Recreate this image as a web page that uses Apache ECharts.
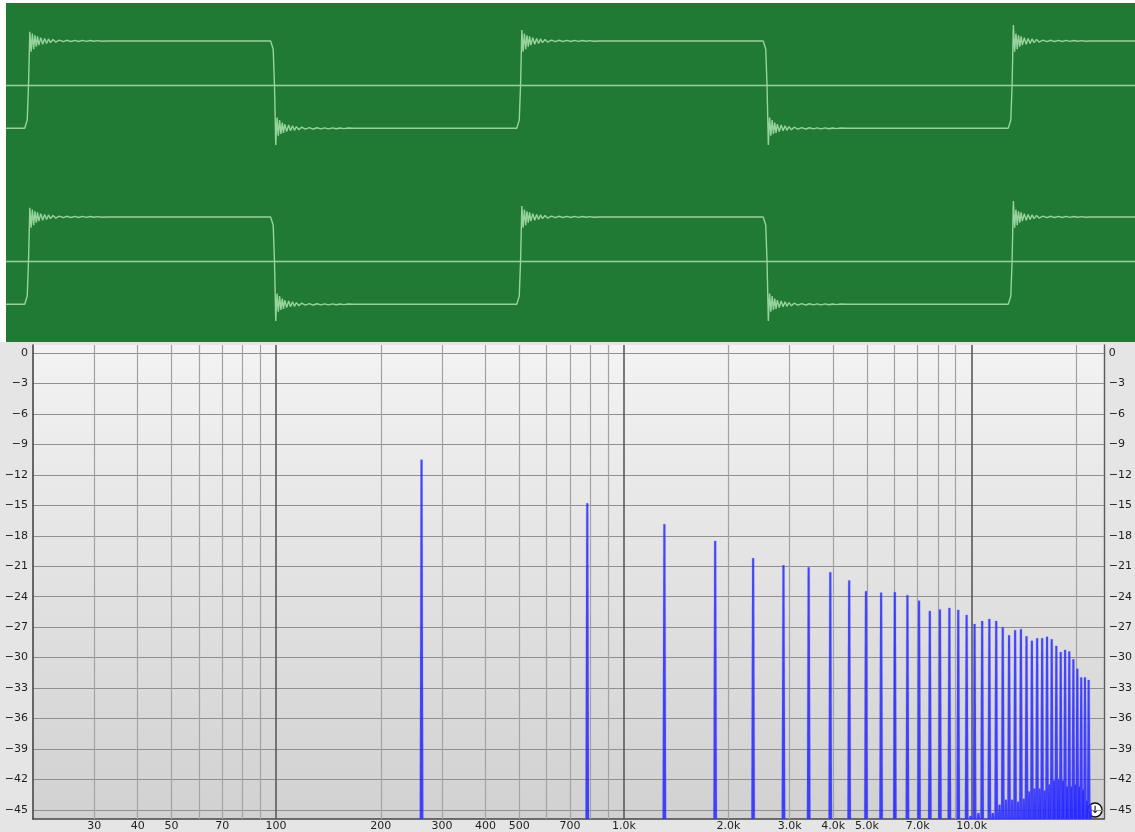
<!DOCTYPE html>
<html><head><meta charset="utf-8">
<script src="https://cdn.jsdelivr.net/npm/echarts@6/dist/echarts.min.js"></script>
<style>html,body{margin:0;padding:0;background:#fff;}#c{width:1135px;height:832px;}</style>
</head><body><div id="c"></div>
<script>
// ---------- Oscilloscope (two identical channels) ----------
const totalMs = 8.772;
const edgeTimesMs = [0.175, 2.086, 3.998, 5.913, 7.817];
const edgePeaks = [0.65, -0.73, 0.67, -0.73, 0.73];
const startLevel = -0.528;
const highLevel = 0.537;
const lowLevel = -0.528;
const preOffsetsMs = [-0.03, -0.02, -0.01];
const preDev = [0, 0.05, 0.1];
const peakOffsetMs = 0.01;
const ringOffsetsMs = [0.02, 0.03, 0.04, 0.05, 0.06, 0.07, 0.08, 0.095, 0.11, 0.125, 0.14, 0.155, 0.17, 0.19, 0.21, 0.24, 0.27, 0.30, 0.33, 0.36, 0.39, 0.42, 0.45, 0.48, 0.51, 0.54, 0.57, 0.61];
const ringDev = [-0.13, 0.09, -0.10, 0.07, -0.07, 0.055, -0.05, 0.04, -0.04, 0.03, -0.03, 0.025, -0.02, 0.018, -0.014, 0.011, -0.008, 0.009, -0.007, 0.008, -0.006, 0.007, -0.005, 0.006, -0.004, 0.004, -0.003, 0];

// ---------- Spectrum ----------
const harmonicFreqs = [262, 785, 1308, 1831, 2354, 2878, 3401, 3924, 4447, 4970, 5494, 6017, 6540, 7063, 7586, 8110, 8633, 9156, 9679, 10202, 10726, 11249, 11772, 12295, 12818, 13342, 13865, 14388, 14911, 15434, 15958, 16481, 17004, 17527, 18050, 18574, 19097, 19620, 20143, 20666, 21190, 21713];
const harmonicDb = [-10.5, -14.8, -16.85, -18.5, -20.2, -20.9, -21.1, -21.6, -22.4, -23.45, -23.6, -23.55, -23.85, -24.4, -25.4, -25.25, -25.1, -25.3, -25.8, -26.7, -26.4, -26.2, -26.4, -27.0, -27.8, -27.3, -27.2, -27.9, -28.35, -28.1, -28.1, -27.95, -28.2, -28.85, -29.45, -29.25, -29.4, -30.15, -31.1, -31.95, -31.95, -32.2];
const aliasFreqs = [9941, 10464, 11510, 12034, 12557, 13080, 13603, 14126, 14650, 15173, 15696, 16219, 16742, 17266, 17789, 18312, 18835, 19358, 19882, 20405, 20928, 21451, 21974];
const aliasDb = [-45.6, -45.3, -45.3, -44.5, -44.0, -44.0, -44.2, -43.9, -43.2, -42.9, -42.9, -43.1, -42.5, -42.1, -41.95, -42.1, -42.7, -42.7, -42.5, -42.7, -43.0, -44.1, -44.6];
const dbTicks = [0, -3, -6, -9, -12, -15, -18, -21, -24, -27, -30, -33, -36, -39, -42, -45];
const gridFreqs = [30, 40, 50, 60, 70, 80, 90, 100, 200, 300, 400, 500, 600, 700, 800, 900, 1000, 2000, 3000, 4000, 5000, 6000, 7000, 8000, 9000, 10000, 20000];
const majorFreqs = [100, 1000, 10000];
const labelFreqs = [30, 40, 50, 70, 100, 200, 300, 400, 500, 700, 1000, 2000, 3000, 4000, 5000, 7000, 10000];
const labelTexts = ['30', '40', '50', '70', '100', '200', '300', '400', '500', '700', '1.0k', '2.0k', '3.0k', '4.0k', '5.0k', '7.0k', '10.0k'];
const dbMin = -45.9, dbMax = 0.8;

function buildChannel() {
  const pts = [[0, startLevel]];
  let prev = startLevel;
  edgeTimesMs.forEach((t, i) => {
    const rising = edgePeaks[i] > 0;
    const target = rising ? highLevel : lowLevel;
    const s = rising ? 1 : -1;
    preOffsetsMs.forEach((o, k) => pts.push([t + o, prev + s * preDev[k]]));
    pts.push([t, 0]);
    pts.push([t + peakOffsetMs, edgePeaks[i]]);
    ringOffsetsMs.forEach((o, k) => pts.push([t + o, target + s * ringDev[k]]));
    prev = target;
  });
  pts.push([totalMs, prev]);
  return pts;
}
const leftChannel = buildChannel();
const rightChannel = buildChannel();

const waveColor = '#97d39c';
const font = 'DejaVu Sans';

function waveSeries(data, idx) {
  return {
    type: 'line', data: data, xAxisIndex: idx, yAxisIndex: idx,
    showSymbol: false, symbol: 'none', animation: false, z: 3,
    lineStyle: { color: waveColor, width: 1.4 },
    markLine: {
      silent: true, symbol: ['none', 'none'], animation: false,
      label: { show: false },
      lineStyle: { color: waveColor, width: 1.4, type: 'solid' },
      data: [{ yAxis: 0 }]
    }
  };
}

const chart = echarts.init(document.getElementById('c'), null, { renderer: 'canvas' });

const vLines = gridFreqs.map(f => {
  const li = labelFreqs.indexOf(f);
  const major = majorFreqs.indexOf(f) >= 0;
  return {
    xAxis: f,
    lineStyle: { color: major ? '#5a5a5a' : '#a2a2a2', width: major ? 1.6 : 1.2, type: 'solid' },
    label: li >= 0 ? { show: true, formatter: labelTexts[li] } : { show: false }
  };
});

const yLabel = {
  fontFamily: font, fontSize: 11, color: '#1e1e1e', margin: 5,
  customValues: dbTicks,
  formatter: v => v === 0 ? '0' : '\u2212' + Math.abs(v)
};

chart.setOption({
  animation: false,
  backgroundColor: '#ffffff',
  graphic: [
    { type: 'rect', z: -10, shape: { x: 0, y: 342, width: 1135, height: 490 }, style: { fill: '#e5e5e5' } },
    { type: 'rect', z: -10, shape: { x: 6, y: 3, width: 1129, height: 339 }, style: { fill: '#217a33' } },
    { type: 'group', x: 1095, y: 810, z: 50, children: [
      { type: 'circle', shape: { cx: 0, cy: 0, r: 7 }, style: { fill: '#ffffff', stroke: '#111', lineWidth: 1.5 } },
      { type: 'text', style: { text: '\u2193', x: 0, y: 0, align: 'center', verticalAlign: 'middle', fontSize: 10, fontWeight: 'bold', fill: '#111', fontFamily: font } }
    ] }
  ],
  grid: [
    { left: 6, right: 0, top: 3, height: 164 },
    { left: 6, right: 0, top: 179, height: 164 },
    { left: 33, right: 29, top: 345, bottom: 13, show: true, borderWidth: 0,
      backgroundColor: new echarts.graphic.LinearGradient(0, 0, 0, 1, [
        { offset: 0, color: '#f3f3f3' }, { offset: 0.5, color: '#e2e2e2' }, { offset: 1, color: '#d1d1d1' }
      ]) }
  ],
  xAxis: [
    { gridIndex: 0, type: 'value', min: 0, max: totalMs, show: false },
    { gridIndex: 1, type: 'value', min: 0, max: totalMs, show: false },
    { gridIndex: 2, type: 'log', logBase: 10, min: 20, max: 24000,
      axisLine: { show: true, onZero: false, lineStyle: { color: '#474747', width: 1.6 } },
      axisTick: { show: false }, axisLabel: { show: false }, splitLine: { show: false }, minorTick: { show: false } }
  ],
  yAxis: [
    { gridIndex: 0, type: 'value', min: -1, max: 1, show: false },
    { gridIndex: 1, type: 'value', min: -1, max: 1, show: false },
    { gridIndex: 2, type: 'value', min: dbMin, max: dbMax, position: 'left',
      axisLine: { show: true, lineStyle: { color: '#474747', width: 1.6 } },
      axisTick: { show: false, customValues: dbTicks },
      axisLabel: yLabel,
      splitLine: { show: true, lineStyle: { color: '#909090', width: 1.2 } } },
    { gridIndex: 2, type: 'value', min: dbMin, max: dbMax, position: 'right',
      axisLine: { show: true, lineStyle: { color: '#5a5a5a', width: 1.4 } },
      axisTick: { show: false, customValues: dbTicks },
      axisLabel: yLabel,
      splitLine: { show: false } }
  ],
  series: [
    waveSeries(leftChannel, 0),
    waveSeries(rightChannel, 1),
    {
      type: 'line', data: [], xAxisIndex: 2, yAxisIndex: 2, z: 1, silent: true,
      markLine: {
        z: 1, silent: true, symbol: ['none', 'none'], animation: false,
        label: { position: 'start', distance: 2, fontFamily: font, fontSize: 11, color: '#1e1e1e' },
        data: vLines
      }
    },
    {
      type: 'custom', xAxisIndex: 2, yAxisIndex: 2, z: 5,
      data: harmonicFreqs.map((f, i) => [f, harmonicDb[i]]).concat(aliasFreqs.map((f, i) => [f, aliasDb[i]])),
      encode: { x: 0, y: 1 },
      renderItem: function (params, api) {
        const top = api.coord([api.value(0), api.value(1)]);
        const bot = api.coord([api.value(0), dbMin]);
        return {
          type: 'polygon',
          shape: { points: [[top[0] - 1.0, top[1]], [top[0] + 1.0, top[1]], [bot[0] + 1.8, bot[1]], [bot[0] - 1.8, bot[1]]] },
          style: { fill: 'rgba(30,30,255,0.82)', stroke: 'rgba(100,100,255,0.5)', lineWidth: 0.6 }
        };
      }
    }
  ]
});
</script></body></html>
